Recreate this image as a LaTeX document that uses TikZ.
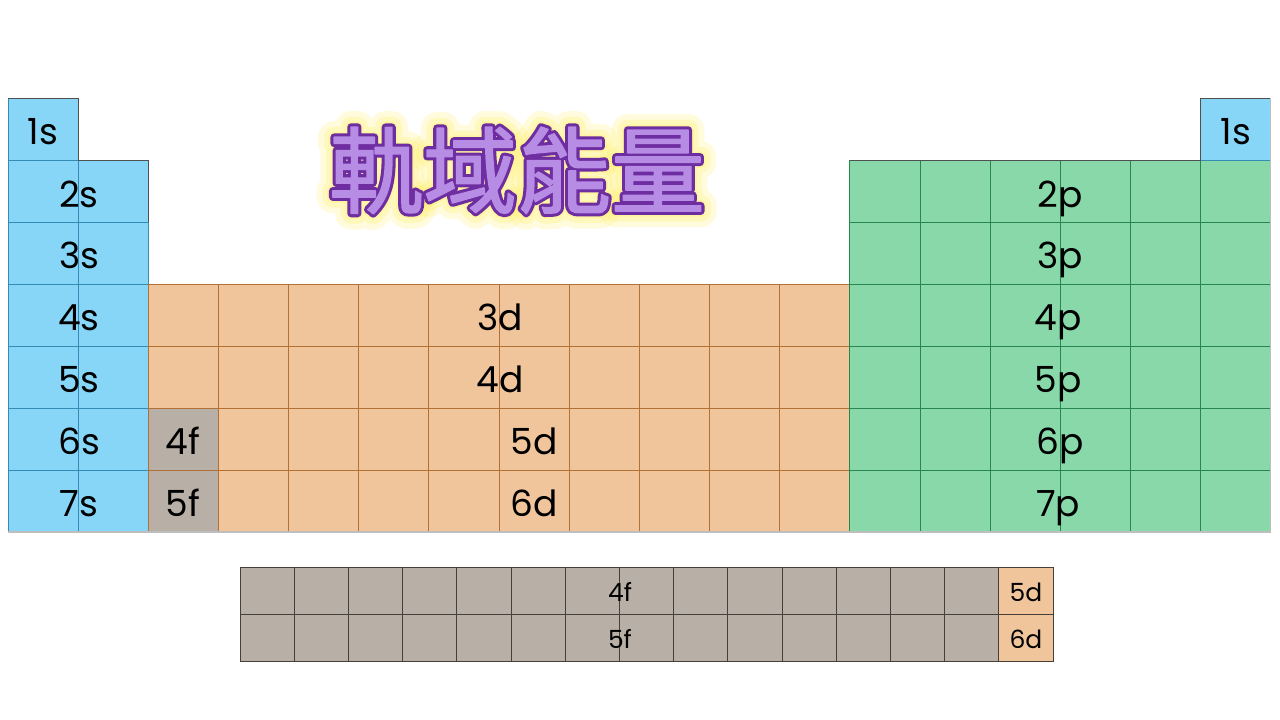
\documentclass[tikz,border=0pt]{standalone}
\usepackage{fontspec}
\setmainfont{Poppins}
\newfontfamily\cjk{Noto Sans CJK TC}[FakeBold=1.5]
\newfontfamily\cjkout{Noto Sans CJK TC}[FakeBold=8]
\newfontfamily\cjkglowa{Noto Sans CJK TC}[FakeBold=34]
\newfontfamily\cjkglowb{Noto Sans CJK TC}[FakeBold=22]
\newfontfamily\cjkglowc{Noto Sans CJK TC}[FakeBold=12]
\usetikzlibrary{calc}
\definecolor{sfill}{RGB}{135,214,247}
\definecolor{sline}{RGB}{52,140,180}
\definecolor{dfill}{RGB}{240,197,156}
\definecolor{dline}{RGB}{178,112,52}
\definecolor{pfill}{RGB}{136,216,169}
\definecolor{pline}{RGB}{40,135,80}
\definecolor{ffill}{RGB}{184,175,166}
\definecolor{fline}{RGB}{70,62,56}
\definecolor{edgec}{RGB}{80,80,80}
\definecolor{lightedge}{RGB}{190,190,190}
\definecolor{titlefill}{RGB}{182,140,228}
\definecolor{titleline}{RGB}{110,45,160}
\definecolor{glowc}{RGB}{255,240,100}
\begin{document}
\begin{tikzpicture}[x=1pt,y=-1pt,
  cellbox/.style={line width=0.9pt},
  biglabel/.style={anchor=base,inner sep=0pt,font=\fontsize{36}{40}\selectfont},
  smalllabel/.style={anchor=base,inner sep=0pt,font=\fontsize{25}{28}\selectfont},
  titletext/.style={anchor=base,inner sep=0pt,line join=round},
  glowtext/.style={titletext,text=glowc}]
\useasboundingbox (0,0) rectangle (1280,720);
\fill[white] (0,0) rectangle (1280,720);
\def\W{70.15}
\def\H{62}
\def\BW{54.2}
\def\BH{47}
% ---------- main table ----------
% s block
\draw[cellbox,fill=sfill,draw=sline] (8,98) rectangle ++(\W,\H);
\foreach \r in {2,...,7}
  \foreach \c in {1,2}
    \draw[cellbox,fill=sfill,draw=sline] ({8+(\c-1)*\W},{98+(\r-1)*\H}) rectangle ++(\W,\H);
% d block
\foreach \r in {4,...,7}
  \foreach \c in {3,...,12}
    \draw[cellbox,fill=dfill,draw=dline] ({8+(\c-1)*\W},{98+(\r-1)*\H}) rectangle ++(\W,\H);
% f cells
\foreach \r in {6,7}
  \draw[cellbox,fill=ffill,draw=dline] ({8+2*\W},{98+(\r-1)*\H}) rectangle ++(\W,\H);
% p block
\foreach \r in {2,...,7}
  \foreach \c in {13,...,18}
    \draw[cellbox,fill=pfill,draw=pline] ({8+(\c-1)*\W},{98+(\r-1)*\H}) rectangle ++(\W,\H);
% right 1s
\draw[cellbox,fill=sfill,draw=sline] ({8+17*\W},98) rectangle ++(\W,\H);
% outer edges
\draw[edgec,line width=1pt] (8,98) -- ({8+\W},98) -- ({8+\W},160) -- ({8+2*\W},160) -- ({8+2*\W},222);
\draw[edgec,line width=1pt] ({8+12*\W},160) -- ({8+17*\W},160) -- ({8+17*\W},98) -- ({8+18*\W},98);
\draw[lightedge,line width=1.2pt] ({8+18*\W},98) -- ({8+18*\W},532) -- (8,532);
% labels main
\node[biglabel] (s1a) at (43,144) {1s};
\node[biglabel] (s1b) at (1236,144) {1s};
\node[biglabel] (s2) at (79,207) {2s};
\node[biglabel] (s3) at (79,268) {3s};
\node[biglabel] (s4) at (79,330) {4s};
\node[biglabel] (s5) at (79,392) {5s};
\node[biglabel] (s6) at (79,454) {6s};
\node[biglabel] (s7) at (79,516) {7s};
\node[biglabel] (d3) at (500,330) {3d};
\node[biglabel] (d4) at (500,392) {4d};
\node[biglabel] (d5) at (534,454) {5d};
\node[biglabel] (d6) at (534,516) {6d};
\node[biglabel] (f4) at (183,454) {4f};
\node[biglabel] (f5) at (183,516) {5f};
\node[biglabel] (p2) at (1060,207) {2p};
\node[biglabel] (p3) at (1060,268) {3p};
\node[biglabel] (p4) at (1058,330) {4p};
\node[biglabel] (p5) at (1058,392) {5p};
\node[biglabel] (p6) at (1060,454) {6p};
\node[biglabel] (p7) at (1058,516) {7p};
% ---------- bottom table ----------
\foreach \r in {1,2}
  \foreach \c in {1,...,14}
    \draw[cellbox,fill=ffill,draw=fline] ({240+(\c-1)*\BW},{567+(\r-1)*\BH}) rectangle ++(\BW,\BH);
\foreach \r in {1,2}
  \draw[cellbox,fill=dfill,draw=fline] ({240+14*\BW},{567+(\r-1)*\BH}) rectangle ++(\BW,\BH);
\node[smalllabel] (bf4) at (620,601) {4f};
\node[smalllabel] (bf5) at (620,648) {5f};
\node[smalllabel] (bd5) at (1026,601) {5d};
\node[smalllabel] (bd6) at (1026,648) {6d};
% ---------- title ----------
\coordinate (tc) at (517,206);
\node[glowtext,opacity=0.22] (glowa) at (tc) {\cjkglowa\fontsize{94}{100}\selectfont 軌域能量};
\node[glowtext,opacity=0.25] (glowb) at (tc) {\cjkglowb\fontsize{94}{100}\selectfont 軌域能量};
\node[glowtext,opacity=0.3] (glowc) at (tc) {\cjkglowc\fontsize{94}{100}\selectfont 軌域能量};
\node[titletext,text=titleline] (titleoutline) at (tc) {\cjkout\fontsize{94}{100}\selectfont 軌域能量};
\node[titletext,text=titlefill] (title) at (tc) {\cjk\fontsize{94}{100}\selectfont 軌域能量};
\end{tikzpicture}
\end{document}
